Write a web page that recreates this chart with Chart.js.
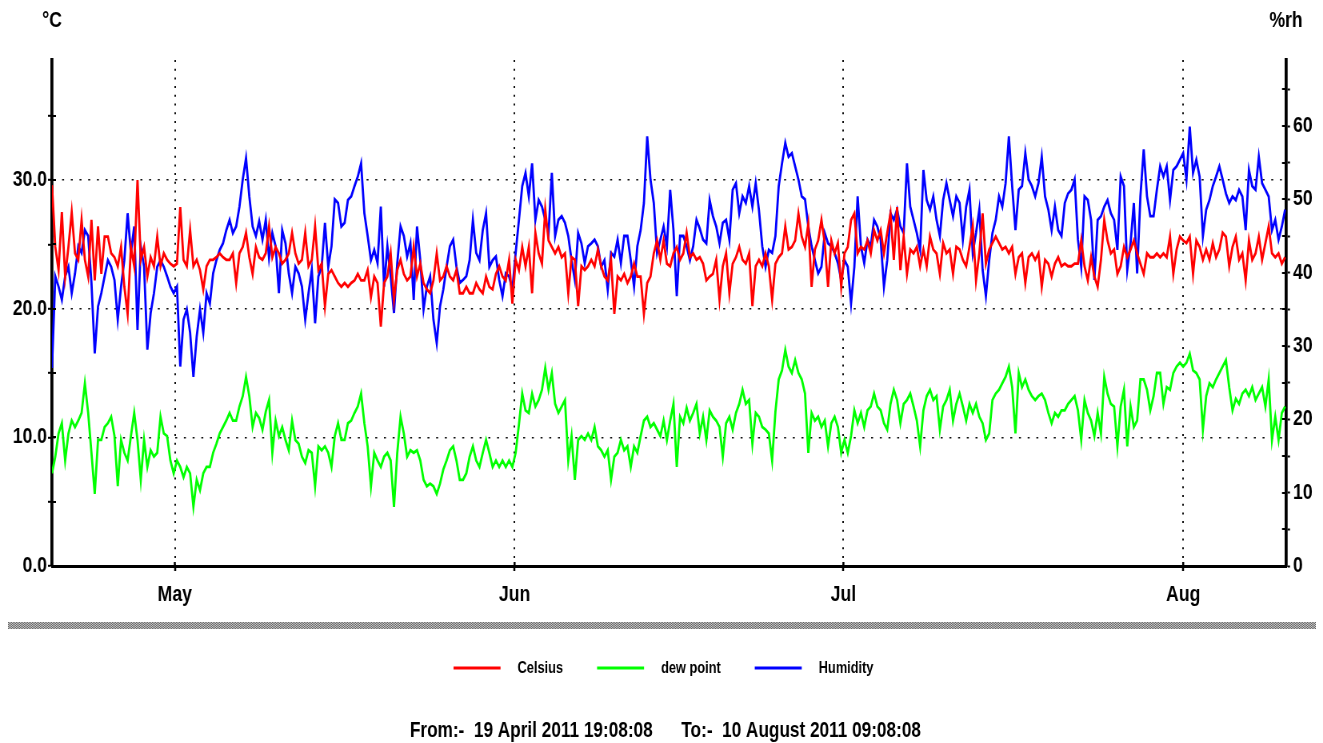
<!DOCTYPE html>
<html>
<head>
<meta charset="utf-8">
<title>Temperature, dew point and humidity log</title>
<script src="https://cdn.jsdelivr.net/npm/chart.js@4.4.1/dist/chart.umd.min.js"></script>
<style>
  html, body { margin: 0; padding: 0; background: #fff; overflow: hidden; }
  #wrap { width: 1323px; height: 743px; position: relative; }
  #log { display: block; }
</style>
</head>
<body>
<div id="wrap"><canvas id="log"></canvas></div>
<script>
// Logging period and sampling interval
const START = Date.UTC(2011, 3, 19, 19, 8, 8);
const END = Date.UTC(2011, 7, 10, 9, 8, 8);
const STEP_HOURS = 7.2;

// Month boundaries on the time axis
const monthStarts = [Date.UTC(2011, 4, 1), Date.UTC(2011, 5, 1), Date.UTC(2011, 6, 1), Date.UTC(2011, 7, 1)];
const monthLabels = ['May', 'Jun', 'Jul', 'Aug'];

// Axis tick values (labels on the multiples of ten)
const celsiusTicks = [0, 5, 10, 15, 20, 25, 30, 35];
const humidityTicks = [0, 5, 10, 15, 20, 25, 30, 35, 40, 45, 50, 55, 60, 65];

// Temperature, °C
const celsius = [
  29.6, 24.8, 23.0, 27.5, 22.5, 24.8, 27.5, 24.3, 23.8, 26.9,
  23.8, 22.5, 26.9, 22.2, 26.4, 22.7, 25.6, 25.6, 24.3, 24.0,
  23.3, 24.8, 21.7, 19.6, 24.8, 23.3, 30.0, 23.8, 24.8, 22.5,
  24.0, 23.3, 25.6, 23.3, 24.3, 23.8, 23.5, 23.3, 23.5, 27.9,
  23.8, 23.3, 26.1, 23.3, 23.8, 23.0, 21.5, 23.3, 23.8, 23.8,
  24.0, 24.3, 24.0, 23.8, 23.8, 24.3, 22.0, 24.3, 24.8, 25.9,
  24.0, 22.7, 24.8, 24.0,
  23.8, 24.3, 26.4, 24.0, 24.8, 24.3, 23.5, 23.8, 24.3, 25.9,
  24.3, 23.5, 23.8, 25.9, 23.3, 23.8, 26.4, 23.0, 23.5, 20.2,
  22.7, 23.0, 22.5, 22.0, 21.7, 22.0, 21.7, 22.0, 22.2, 22.7,
  22.2, 22.2, 23.0, 20.9, 22.5, 22.0, 18.6, 22.0, 22.5, 24.3,
  20.7, 23.0, 23.8, 22.7, 22.2, 22.5, 24.8, 22.5, 23.5, 22.0,
  21.5, 21.2, 22.2, 24.3, 22.2, 22.5, 23.3, 22.5, 22.2, 23.0,
  21.2, 21.2,
  21.7, 21.2, 21.2, 22.0, 21.5, 21.2, 22.5, 21.7, 21.5, 22.7,
  23.3, 22.5, 22.2, 23.8, 20.4, 23.8, 23.0, 24.8, 23.3, 24.8,
  21.2, 25.9, 24.3, 23.5, 27.7, 25.3, 24.8, 24.3, 24.8, 24.0,
  24.3, 21.2, 24.0, 23.8, 20.2, 23.3, 23.0, 23.3, 23.8, 23.3,
  24.6, 23.3, 22.5, 22.2, 23.8, 19.6, 22.5, 22.2, 22.7, 22.0,
  22.5, 23.5, 22.5, 22.5, 19.6, 22.0, 22.5, 24.3, 25.3, 23.8,
  25.3, 23.5,
  23.3, 24.3, 24.8, 23.8, 24.3, 25.9, 24.0, 24.3, 23.8, 24.0,
  23.5, 22.2, 22.5, 22.7, 23.8, 20.7, 23.3, 24.3, 21.2, 23.5,
  24.0, 24.8, 23.8, 23.5, 24.3, 20.2, 23.3, 23.8, 23.3, 24.3,
  23.3, 20.7, 23.5, 24.0, 24.3, 26.4, 24.6, 24.8, 25.3, 27.4,
  25.6, 24.8, 26.6, 21.7, 24.6, 25.3, 26.9, 25.1, 21.7, 25.3,
  24.3, 25.1, 21.7, 24.3, 24.8, 26.9, 27.4, 24.3, 24.8, 24.6,
  25.3, 24.3, 26.1,
  25.3, 26.1, 24.3, 25.9, 27.4, 23.8, 27.9, 23.0, 25.6, 22.7,
  24.6, 24.3, 24.8, 23.3, 24.6, 23.3, 25.6, 24.6, 24.3, 22.7,
  25.1, 24.3, 24.6, 22.7, 24.8, 24.6, 23.8, 23.3, 24.8, 26.4,
  22.2, 24.3, 27.4, 23.5, 24.6, 25.1, 25.6, 25.1, 24.6, 24.8,
  24.3, 24.8, 22.7, 24.0, 24.3, 22.0, 24.0, 24.3, 23.8, 24.3,
  21.7, 23.8, 23.5, 22.5, 23.5, 24.0, 23.3, 23.5, 23.3, 23.3,
  23.5, 23.5,
  25.3, 23.3, 22.2, 24.0, 22.5, 21.7, 23.8, 26.9, 25.3, 24.3,
  24.6, 22.7, 23.3, 24.8, 24.0, 24.6, 25.3, 24.3, 23.5, 22.7,
  24.3, 24.0, 24.0, 24.3, 24.0, 24.3, 24.0, 25.6, 22.7, 24.6,
  25.6, 25.3, 25.1, 25.6, 22.7, 25.3, 24.8, 23.8, 24.6, 23.8,
  25.1, 24.0, 24.6, 25.9, 25.6, 23.3, 24.8, 25.6, 23.8, 24.3,
  22.2, 25.3, 23.8, 24.3, 25.6, 23.8, 25.1, 26.4, 24.3, 24.0,
  24.3, 23.5, 24.0
];

// Dew point, °C
const dewPoint = [
  7.2, 8.5, 10.3, 11.1, 8.2, 10.3, 11.3, 10.8, 11.3, 11.9,
  14.2, 11.9, 8.8, 5.6, 9.8, 9.8, 10.8, 11.1, 11.6, 10.1,
  6.2, 9.8, 8.8, 8.2, 10.1, 11.9, 9.8, 6.7, 9.8, 7.7,
  9.0, 8.5, 8.8, 11.6, 10.3, 10.1, 8.2, 7.2, 8.2, 7.7,
  6.9, 7.7, 7.2, 4.6, 6.7, 5.9, 7.2, 7.7, 7.7, 8.8,
  9.5, 10.3, 10.8, 11.3, 11.9, 11.3, 11.3, 12.4, 13.2, 14.7,
  13.2, 10.8, 11.9, 11.5,
  10.6, 12.0, 12.9, 8.8, 11.3, 10.1, 10.8, 9.8, 9.0, 11.3,
  9.8, 9.5, 8.5, 8.0, 9.0, 8.8, 6.2, 9.3, 9.0, 9.3,
  8.8, 7.7, 10.1, 11.1, 9.8, 9.8, 11.1, 11.3, 11.9, 12.4,
  13.4, 11.1, 9.3, 6.2, 8.8, 8.2, 7.7, 8.5, 8.8, 8.2,
  4.6, 8.8, 11.6, 10.3, 8.5, 9.0, 8.8, 9.0, 8.2, 6.7,
  6.2, 6.4, 6.2, 5.6, 6.4, 7.5, 8.2, 9.0, 9.3, 8.2,
  6.7, 6.7,
  7.2, 8.5, 9.3, 8.2, 7.7, 8.8, 9.8, 8.8, 7.7, 8.2,
  7.7, 8.2, 7.7, 8.2, 7.7, 8.8, 11.0, 13.4, 12.1, 11.9,
  13.4, 12.4, 12.9, 13.7, 15.4, 13.7, 15.0, 12.6, 11.9, 12.4,
  12.9, 8.2, 10.1, 6.7, 9.8, 10.1, 9.8, 10.3, 9.8, 10.8,
  9.3, 9.0, 8.5, 9.0, 6.7, 8.5, 8.8, 9.8, 9.0, 9.3,
  7.7, 9.3, 8.8, 10.1, 11.3, 11.6, 10.8, 11.1, 10.6, 10.1,
  11.3, 9.8,
  11.3, 12.6, 7.7, 11.6, 11.1, 12.3, 11.3, 11.9, 12.6, 10.3,
  11.6, 9.8, 12.1, 11.6, 11.3, 10.8, 8.5, 11.1, 11.6, 10.6,
  11.9, 12.6, 13.7, 12.6, 12.9, 9.5, 11.9, 11.6, 10.8, 10.6,
  10.3, 8.2, 12.0, 14.5, 15.2, 16.8, 15.5, 15.0, 16.0, 15.0,
  14.5, 13.4, 8.8, 11.9, 11.3, 11.6, 10.8, 11.3, 9.3, 11.1,
  11.6, 10.8, 8.8, 9.8, 8.8, 10.1, 12.1, 11.1, 11.9, 10.8,
  12.1, 12.4, 13.4,
  12.4, 12.1, 11.1, 10.6, 12.6, 13.7, 12.9, 11.1, 12.6, 12.9,
  13.4, 12.4, 11.3, 9.3, 12.1, 13.2, 13.7, 12.9, 13.2, 10.6,
  12.4, 12.9, 13.7, 11.3, 12.6, 13.4, 12.4, 11.3, 12.6, 11.9,
  12.6, 11.6, 11.1, 9.8, 10.3, 12.9, 13.4, 13.7, 14.2, 14.7,
  15.5, 13.9, 10.3, 15.0, 13.9, 14.5, 13.7, 13.2, 12.9, 13.2,
  13.4, 12.9, 11.9, 11.1, 11.9, 11.6, 12.1, 12.1, 12.6, 12.9,
  13.2, 12.1,
  9.8, 12.9, 11.9, 11.3, 10.1, 11.9, 10.3, 14.7, 13.4, 12.6,
  12.4, 9.3, 12.4, 13.7, 9.3, 12.4, 10.8, 11.3, 14.5, 14.5,
  13.7, 12.1, 13.2, 15.0, 15.0, 12.6, 13.9, 13.7, 15.0, 15.5,
  15.8, 15.5, 15.8, 16.5, 15.2, 15.0, 14.5, 10.6, 13.2, 14.2,
  13.9, 14.5, 15.0, 15.5, 16.0, 13.9, 12.1, 13.0, 12.6, 13.4,
  13.7, 13.2, 13.9, 12.9, 13.4, 13.9, 12.4, 14.5, 9.8, 11.6,
  9.8, 11.9, 12.4
];

// Relative humidity, %rh
const humidity = [
  27.0, 39.5, 38.1, 36.3, 39.5, 40.8, 37.2, 39.9, 43.6, 42.7,
  45.8, 45.0, 38.6, 29.0, 35.4, 37.2, 39.5, 41.7, 40.8, 39.0,
  33.6, 38.1, 41.7, 48.1, 42.7, 46.3, 32.2, 43.6, 40.8, 29.5,
  34.5, 37.2, 40.8, 41.7, 40.8, 39.5, 38.1, 37.2, 38.1, 27.2,
  33.6, 35.0, 31.8, 25.8, 31.3, 35.0, 31.8, 37.2, 35.8, 39.9,
  41.7, 43.1, 44.0, 45.8, 47.2, 45.4, 46.3, 49.0, 52.7, 55.6,
  50.4, 46.3, 45.0, 47.0,
  44.5, 47.2, 42.0, 45.4, 43.6, 37.2, 45.8, 44.0, 39.9, 37.2,
  40.8, 39.9, 38.1, 33.6, 37.2, 40.4, 33.1, 39.5, 40.8, 46.8,
  40.8, 43.6, 50.0, 49.5, 46.3, 46.8, 49.9, 50.4, 51.8, 53.1,
  54.9, 48.1, 45.0, 41.7, 43.1, 41.3, 49.0, 38.1, 43.6, 39.5,
  34.5, 41.3, 46.3, 45.0, 42.2, 44.0, 36.3, 46.3, 41.7, 35.0,
  38.1, 39.5, 33.6, 30.4, 35.4, 37.7, 40.8, 43.6, 44.5, 40.8,
  38.6, 39.0,
  39.5, 41.7, 47.2, 42.7, 41.7, 45.8, 48.1, 40.8, 41.7, 42.2,
  39.0, 36.8, 39.9, 39.5, 37.7, 42.7, 47.2, 51.8, 53.6, 50.4,
  54.9, 47.2, 49.9, 49.0, 47.2, 45.4, 53.6, 45.0, 47.2, 47.7,
  46.8, 45.0, 41.7, 39.0, 45.4, 44.0, 41.3, 43.6, 44.0, 44.5,
  43.6, 40.8, 41.7, 37.7, 42.7, 42.2, 44.5, 41.3, 45.0, 45.0,
  41.7, 38.1, 43.6, 45.8, 49.5, 58.6, 52.7, 49.5, 42.7, 44.5,
  46.3, 43.6,
  51.3, 45.8, 36.8, 45.0, 45.0, 43.6, 41.7, 43.6, 47.2, 46.0,
  44.5, 44.0, 49.9, 47.7, 46.3, 44.0, 46.8, 47.2, 44.5, 51.3,
  52.2, 48.1, 50.4, 49.5, 51.8, 49.0, 52.2, 48.5, 43.6, 40.8,
  43.1, 42.7, 45.0, 51.8, 54.9, 57.7, 55.8, 56.3, 54.5, 52.7,
  50.4, 50.0, 46.3, 43.6, 41.7, 39.9, 40.8, 45.4, 44.0, 43.6,
  42.7, 41.3, 39.0, 41.7, 40.8, 35.8, 40.8, 50.4, 43.6, 41.3,
  44.5, 43.6, 47.2,
  46.3, 44.5, 38.1, 41.7, 48.1, 47.2, 48.6, 46.3, 45.4, 54.9,
  49.0, 47.2, 45.4, 43.1, 54.0, 49.9, 48.6, 50.4, 47.2, 45.0,
  49.9, 52.2, 49.9, 47.7, 50.4, 49.5, 44.5, 49.0, 51.3, 42.7,
  45.4, 48.6, 40.4, 36.8, 41.7, 45.4, 47.2, 50.4, 49.0, 52.2,
  58.6, 51.8, 45.8, 51.3, 51.8, 56.3, 52.7, 51.8, 50.4, 52.2,
  55.8, 50.4, 48.6, 45.8, 49.0, 45.8, 45.0, 49.5, 50.8, 51.3,
  52.7, 44.5,
  40.8, 50.4, 49.9, 47.2, 39.0, 47.2, 47.7, 49.0, 49.9, 48.1,
  47.2, 43.1, 53.1, 51.8, 40.4, 44.0, 49.5, 39.9, 50.4, 56.8,
  50.4, 47.7, 47.7, 51.3, 54.5, 53.1, 54.5, 49.9, 54.0, 54.5,
  55.4, 56.3, 52.7, 59.9, 53.6, 55.4, 53.1, 45.0, 48.6, 49.9,
  51.8, 53.1, 54.5, 52.7, 50.8, 49.5, 50.4, 49.9, 51.3, 50.4,
  45.8, 54.0, 51.8, 51.3, 55.8, 52.2, 51.3, 50.4, 45.8, 47.2,
  44.5, 46.3, 48.6
];

const FOOTER = 'From:-  19 April 2011 19:08:08      To:-  10 August 2011 09:08:08';
const FONT_FAMILY = "'Liberation Sans', Arial, sans-serif";
const tickFont = { family: FONT_FAMILY, size: 22, weight: 'bold' };

// The drawing surface is wider than its displayed box and shown narrowed,
// which gives the compressed lettering of the logger's printout.
const SQUEEZE = 0.8;
const DISPLAY_W = 1323, DISPLAY_H = 743;
const CANVAS_W = Math.round(DISPLAY_W / SQUEEZE);
const sx = v => v / SQUEEZE;   // display px -> canvas px, horizontal only

const canvas = document.getElementById('log');
canvas.width = CANVAS_W;
canvas.height = DISPLAY_H;
canvas.style.width = DISPLAY_W + 'px';
canvas.style.height = DISPLAY_H + 'px';

const hoursSinceStart = t => (t - START) / 3600000;
const toPoints = values => values.map((v, i) => ({ x: i * STEP_HOURS, y: v }));

// Axis decorations, legend, separator and period caption
const decorations = {
  id: 'decorations',
  afterDraw(chart) {
    const { ctx, chartArea: area, scales } = chart;
    ctx.save();

    // inner half of each axis tick mark
    ctx.strokeStyle = '#000';
    ctx.lineWidth = 2;
    ctx.beginPath();
    scales.yT.ticks.forEach(t => {
      const y = Math.round(scales.yT.getPixelForValue(t.value));
      ctx.moveTo(area.left, y); ctx.lineTo(area.left + sx(4), y);
    });
    scales.yH.ticks.forEach(t => {
      const y = Math.round(scales.yH.getPixelForValue(t.value));
      ctx.moveTo(area.right - sx(4), y); ctx.lineTo(area.right, y);
    });
    ctx.stroke();
    ctx.lineWidth = sx(2);
    ctx.beginPath();
    scales.x.ticks.forEach(t => {
      const x = scales.x.getPixelForValue(t.value);
      ctx.moveTo(x, area.bottom - 4); ctx.lineTo(x, area.bottom);
    });
    ctx.stroke();

    // unit captions above the two value axes
    ctx.fillStyle = '#000';
    ctx.font = `bold 22px ${FONT_FAMILY}`;
    ctx.textAlign = 'center';
    ctx.textBaseline = 'middle';
    ctx.fillText('°C', area.left, 21);
    ctx.fillText('%rh', area.right, 21);

    // hatched separator band
    const tile = document.createElement('canvas');
    tile.width = 4; tile.height = 4;
    const tctx = tile.getContext('2d');
    tctx.fillStyle = '#d4d4d4';
    tctx.fillRect(0, 0, 4, 4);
    tctx.fillStyle = '#5c5c5c';
    for (let yy = 0; yy < 4; yy++) {
      for (let xx = 0; xx < 4; xx++) {
        if ((xx + yy) % 2 === 0) tctx.fillRect(xx, yy, 1, 1);
      }
    }
    ctx.fillStyle = ctx.createPattern(tile, 'repeat');
    ctx.fillRect(sx(8), 622, sx(1308), 7);

    // legend
    ctx.font = `bold 16px ${FONT_FAMILY}`;
    ctx.textAlign = 'left';
    const LINE = sx(47), GAP = sx(17), SEP = sx(34);
    const items = chart.data.datasets.map(ds => ({
      label: ds.label, color: ds.borderColor, w: ctx.measureText(ds.label).width
    }));
    const total = items.reduce((s, it) => s + LINE + GAP + it.w, 0) + SEP * (items.length - 1);
    let x = chart.width / 2 - total / 2 + sx(2);
    const ly = 668;
    items.forEach(it => {
      ctx.strokeStyle = it.color;
      ctx.lineWidth = 3;
      ctx.beginPath();
      ctx.moveTo(x, ly); ctx.lineTo(x + LINE, ly);
      ctx.stroke();
      ctx.fillStyle = '#000';
      ctx.fillText(it.label, x + LINE + GAP, ly + 1);
      x += LINE + GAP + it.w + SEP;
    });

    // logging period
    ctx.font = `bold 21.5px ${FONT_FAMILY}`;
    ctx.textAlign = 'center';
    ctx.fillText(FOOTER, sx(665.5), 731);

    ctx.restore();
  }
};

new Chart(canvas, {
  type: 'line',
  data: {
    datasets: [
      { label: 'Celsius', data: toPoints(celsius), borderColor: '#ff0000', yAxisID: 'yT' },
      { label: 'dew point', data: toPoints(dewPoint), borderColor: '#00ff00', yAxisID: 'yT' },
      { label: 'Humidity', data: toPoints(humidity), borderColor: '#0000ff', yAxisID: 'yH' }
    ]
  },
  options: {
    responsive: false,
    animation: false,
    devicePixelRatio: 1,
    elements: {
      line: { borderWidth: 2.8, tension: 0, fill: false },
      point: { radius: 0, hoverRadius: 0 }
    },
    layout: { padding: { top: 60, left: 0, right: 0, bottom: 0 } },
    plugins: { legend: { display: false }, tooltip: { enabled: false } },
    scales: {
      x: {
        type: 'linear',
        min: 0,
        max: hoursSinceStart(END),
        afterBuildTicks: s => { s.ticks = monthStarts.map(t => ({ value: hoursSinceStart(t) })); },
        afterFit: s => { s.height = 177; },
        ticks: {
          callback: (v, i) => monthLabels[i],
          font: tickFont, color: '#000', padding: 11, maxRotation: 0, autoSkip: false
        },
        grid: { color: '#111', lineWidth: sx(1.6), tickLength: 5, tickColor: '#000', tickWidth: sx(2) },
        border: { color: '#000', width: 3, dash: [2, 6.7] }
      },
      yT: {
        position: 'left',
        min: 0,
        max: 39.33,
        afterBuildTicks: s => { s.ticks = celsiusTicks.map(v => ({ value: v })); },
        afterFit: s => { s.width = sx(52); },
        ticks: {
          callback: v => (v % 10 === 0 ? v.toFixed(1) : ''),
          font: tickFont, color: '#000', padding: sx(1), autoSkip: false
        },
        grid: {
          color: c => (c.tick && c.tick.value > 0 && c.tick.value % 10 === 0 ? '#111' : 'rgba(0,0,0,0)'),
          lineWidth: 1.6, tickLength: sx(4), tickColor: '#000', tickWidth: 2
        },
        border: { color: '#000', width: sx(3), dash: [sx(2), sx(6.7)] }
      },
      yH: {
        position: 'right',
        min: 0,
        max: 69,
        afterBuildTicks: s => { s.ticks = humidityTicks.map(v => ({ value: v })); },
        afterFit: s => { s.width = sx(37); },
        ticks: {
          callback: v => (v % 10 === 0 ? String(v) : ''),
          font: tickFont, color: '#000', padding: sx(3), autoSkip: false
        },
        grid: { drawOnChartArea: false, tickLength: sx(4), tickColor: '#000', tickWidth: 2 },
        border: { color: '#000', width: sx(3) }
      }
    }
  },
  plugins: [decorations]
});
</script>
</body>
</html>
